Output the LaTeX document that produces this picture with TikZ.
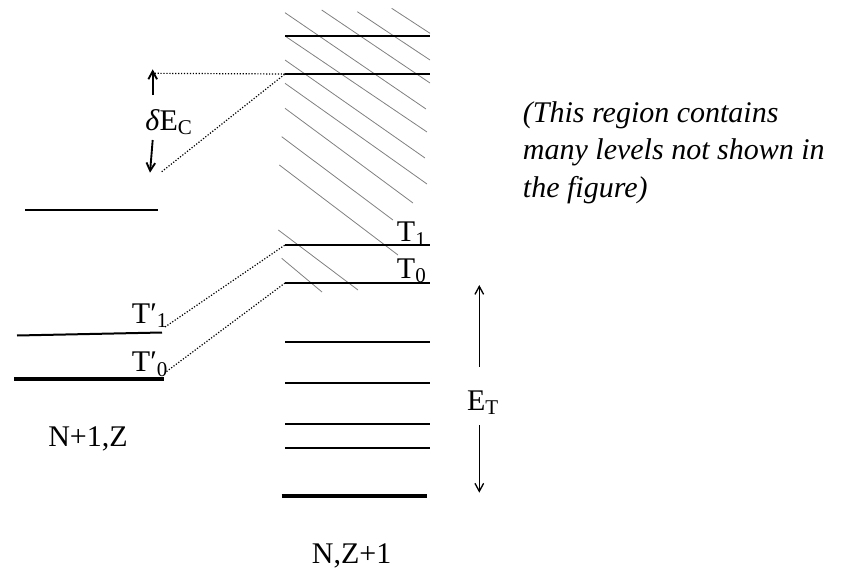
\documentclass[tikz,border=0pt]{standalone}
\usepackage{fontspec}
\setmainfont{Liberation Serif}
\usetikzlibrary{arrows.meta}

\begin{document}
\begin{tikzpicture}[x=0.75pt, y=-0.75pt,
  level/.style={line width=1.5pt},
  ground/.style={line width=3pt},
  hatch/.style={gray, line width=0.6pt},
  link/.style={line width=0.9pt, dash pattern=on 0.9pt off 1.3pt},
  gap/.style={line width=#1, -{Straight Barb[length=6pt, width=6.5pt]}},
  gap/.default=1pt,
  lbl/.style={inner sep=0pt, font=\fontsize{22.5}{27}\selectfont}]
  \useasboundingbox (0,0) rectangle (851,568);
  \foreach \sx/\sy/\ex/\ey in {391.7/8.3/430/33.3, 357.3/11.7/430/60, 321.7/10/430/83,
      285/12.7/426/109, 285/36/427/132, 285/60/425/158, 285/83.3/427/184,
      285/108.3/413/203, 281.7/136.7/393/220, 279.3/165/398/255,
      278.3/230/358/290, 281.7/258.3/322/292}
    \draw[hatch] (\sx,\sy) -- (\ex,\ey);
  \foreach \y [count=\i] in {36,74,245,283,342,383,424,448} {
    \coordinate (w\i) at (285,\y);
    \coordinate (e\i) at (430,\y);
    \draw[level] (w\i) -- (e\i);
  }
  \coordinate (w0) at (281.7,496);
  \coordinate (e0) at (426.7,496);
  \draw[ground] (w0) -- (e0);
  \coordinate (lx-w) at (25,210);
  \coordinate (lx-e) at (158,210);
  \draw[level] (lx-w) -- (lx-e);
  \coordinate (tp1-w) at (17,335.5);
  \coordinate (tp1-e) at (162,332.5);
  \draw[level] (tp1-w) -- (tp1-e);
  \coordinate (tp0-w) at (14,378.5);
  \coordinate (tp0-e) at (163.5,378.5);
  \draw[ground] (tp0-w) -- (tp0-e);
  \coordinate (dc-top) at (151.7,73.3);
  \coordinate (dc-low) at (161.7,171.7);
  \draw[link] (dc-top) -- (w2);
  \draw[link] (dc-low) -- (w2);
  \draw[link] ([shift={(3,-5.5)}]tp1-e) -- (w3);
  \draw[link] ([shift={(3,-7)}]tp0-e) -- (w4);
  \node[lbl, anchor=base west] (dEC) at (145,130) {\textit{δ}E\textsubscript{C}};
  \coordinate (dc-a) at (152.7,95);
  \coordinate (dc-b) at (152.7,69.3);
  \coordinate (dc-c) at (152.7,140);
  \coordinate (dc-d) at (150,172.7);
  \draw[gap=1.4pt] (dc-a) -- (dc-b);
  \draw[gap=1.4pt] (dc-c) -- (dc-d);
  \node[lbl, anchor=base west] (Tp1) at (131.7,323) {T′\textsubscript{1}};
  \node[lbl, anchor=base west] (Tp0) at (131.7,371.7) {T′\textsubscript{0}};
  \node[lbl, anchor=base west] (T1) at (396.7,241.7) {T\textsubscript{1}};
  \node[lbl, anchor=base west] (T0) at (396.7,278.3) {T\textsubscript{0}};
  \node[lbl, anchor=base] (ET) at (483,410) {E\textsubscript{T}};
  \coordinate (et-a) at (479.3,366.7);
  \coordinate (et-b) at (479.3,285);
  \coordinate (et-c) at (479.3,425);
  \coordinate (et-d) at (479.3,492.7);
  \draw[gap] (et-a) -- (et-b);
  \draw[gap] (et-c) -- (et-d);
  \node[lbl, anchor=base] (nz1) at (88,446) {N+1,Z};
  \node[lbl, anchor=base] (nz2) at (351.7,563) {N,Z+1};
  \node[lbl, anchor=base west, align=left, font=\fontsize{22.5}{28}\selectfont\itshape] (note) at (522.7,197)
    {(This region contains\\many levels not shown in\\the figure)};
\end{tikzpicture}
\end{document}
